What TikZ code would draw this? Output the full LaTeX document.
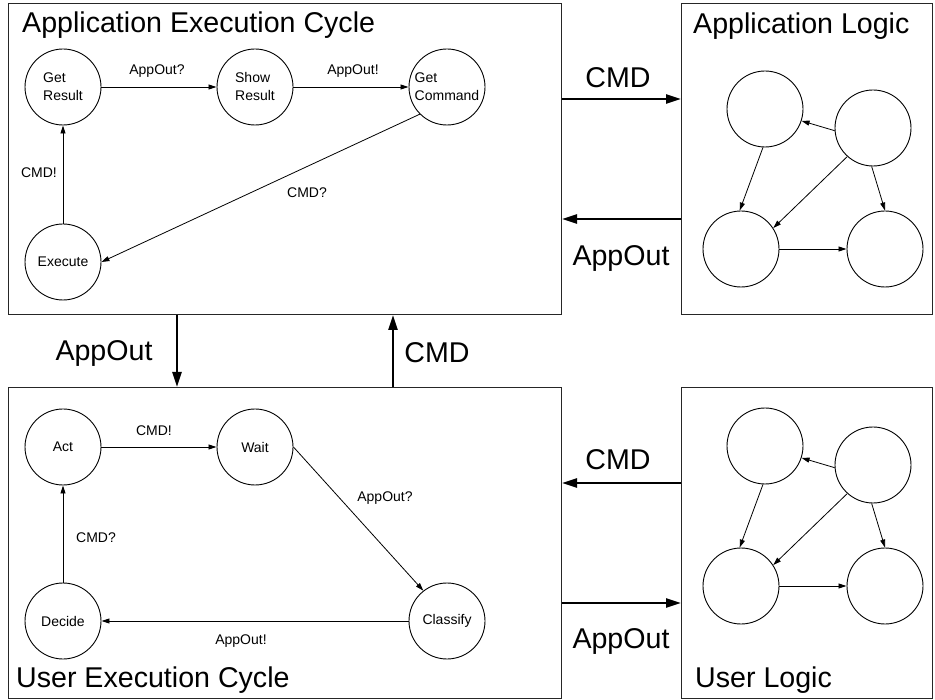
\documentclass[tikz,border=0pt]{standalone}
\usepackage{fontspec}
\setmainfont{Liberation Sans}
\usetikzlibrary{arrows.meta}
\begin{document}
\begin{tikzpicture}[x=1pt,y=-1pt,
  box/.style={draw=black!85, line width=1pt, anchor=north west, inner sep=0pt},
  st/.style={draw, circle, minimum size=76pt, inner sep=0pt, line width=0.9pt, font=\fontsize{14}{18}\selectfont, align=left},
  lg/.style={draw, circle, minimum size=76pt, inner sep=0pt, line width=0.9pt},
  small/.style={-{Triangle[length=8pt,width=5pt]}, line width=0.8pt},
  big/.style={-{Triangle[length=15pt,width=9pt]}, line width=2.5pt},
  lbl/.style={font=\fontsize{14}{16}\selectfont, anchor=base, inner sep=0pt},
  biglbl/.style={font=\fontsize{28.6}{34}\selectfont, anchor=base, inner sep=0pt},
  title/.style={font=\fontsize{28.6}{34}\selectfont, anchor=base west, inner sep=0pt}
]
\useasboundingbox (0,0) rectangle (935,700);

% boxes
\node[box, minimum width=553pt, minimum height=311pt] (aex) at (8,3) {};
\node[box, minimum width=251pt, minimum height=311pt] (alog) at (681,3) {};
\node[box, minimum width=553pt, minimum height=311pt] (uex) at (8,387) {};
\node[box, minimum width=251pt, minimum height=311pt] (ulog) at (681,387) {};

% titles
\node[title] (t1) at (22,33) {Application Execution Cycle};
\node[title] (t2) at (693,34) {Application Logic};
\node[title] (t3) at (16,687) {User Execution Cycle};
\node[title] (t4) at (695,687) {User Logic};

% application execution cycle
\node[st] (gr) at (63,87) {Get\\Result};
\node[st] (sr) at (255,87) {Show\\Result};
\node[st] (gc) at (447,87) {Get\\Command};
\node[st] (ex) at (63,262) {Execute};
\draw[small] (gr) -- (sr);
\draw[small] (sr) -- (gc);
\draw[small] (gc.225) -- (ex.east);
\draw[small] (ex) -- (gr);
\node[lbl] (l1) at (157,75) {AppOut?};
\node[lbl] (l2) at (353,75) {AppOut!};
\node[lbl] (l3) at (39,178) {CMD!};
\node[lbl] (l4) at (307,198) {CMD?};

% user execution cycle
\node[st] (act) at (63,447) {Act};
\node[st] (wait) at (255,447) {Wait};
\node[st] (cl) at (447,621) {Classify};
\node[st] (dec) at (63,621) {Decide};
\draw[small] (act) -- (wait);
\draw[small] (wait.east) -- (cl.128);
\draw[small] (cl) -- (dec);
\draw[small] (dec) -- (act);
\node[lbl] (l5) at (154,436) {CMD!};
\node[lbl] (l6) at (385,502) {AppOut?};
\node[lbl] (l7) at (241,644) {AppOut!};
\node[lbl] (l8) at (96,543) {CMD?};

% application logic graph
\node[lg] (la) at (765,109) {};
\node[lg] (lb) at (873,128) {};
\node[lg] (lc) at (741,249) {};
\node[lg] (ld) at (885,249) {};
\draw[small] (lb.184) -- (la.342);
\draw[small] (la.267) -- (lc.92);
\draw[small] (lb.228) -- (lc.33);
\draw[small] (lb.268) -- (ld.90);
\draw[small] (lc) -- (ld);

% user logic graph
\node[lg] (ua) at (765,446) {};
\node[lg] (ub) at (873,465) {};
\node[lg] (uc) at (741,586) {};
\node[lg] (ud) at (885,586) {};
\draw[small] (ub.184) -- (ua.342);
\draw[small] (ua.267) -- (uc.92);
\draw[small] (ub.228) -- (uc.33);
\draw[small] (ub.268) -- (ud.90);
\draw[small] (uc) -- (ud);

% interface arrows
\coordinate (y1) at (0,99);
\coordinate (y2) at (0,219);
\coordinate (y3) at (0,483);
\coordinate (y4) at (0,603);
\coordinate (x1) at (177,0);
\coordinate (x2) at (393,0);
\draw[big] (aex.east |- y1) -- (alog.west |- y1);
\draw[big] (alog.west |- y2) -- (aex.east |- y2);
\draw[big] (ulog.west |- y3) -- (uex.east |- y3);
\draw[big] (uex.east |- y4) -- (ulog.west |- y4);
\draw[big] (aex.south -| x1) -- (uex.north -| x1);
\draw[big] (uex.north -| x2) -- (aex.south -| x2);
\node[biglbl] (b1) at (618,88) {CMD};
\node[biglbl] (b2) at (621,266) {AppOut};
\node[biglbl] (b3) at (618,470) {CMD};
\node[biglbl] (b4) at (621,648) {AppOut};
\node[biglbl] (b5) at (104,361) {AppOut};
\node[biglbl] (b6) at (437,363) {CMD};
\end{tikzpicture}
\end{document}
